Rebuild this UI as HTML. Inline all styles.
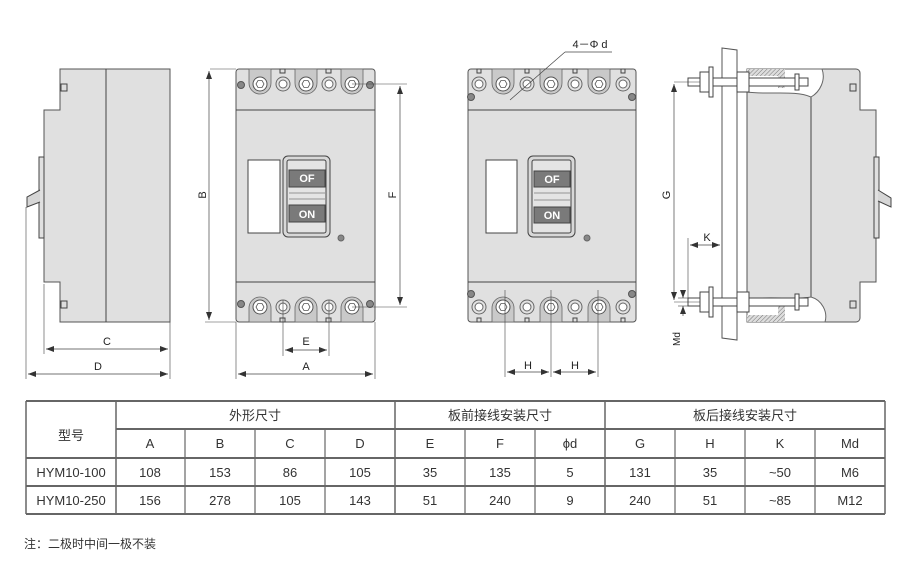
<!DOCTYPE html>
<html><head><meta charset="utf-8"><style>
body{margin:0;background:#fff;width:900px;height:588px;overflow:hidden;font-family:"Liberation Sans","Noto Sans CJK SC",sans-serif}
svg{position:absolute;left:0;top:0}
</style></head><body>
<svg width="900" height="588" viewBox="0 0 900 588" font-family="Liberation Sans, Noto Sans CJK SC, sans-serif">
<defs>
<marker id="a" markerWidth="8" markerHeight="6" refX="8" refY="3" orient="auto-start-reverse" markerUnits="userSpaceOnUse"><path d="M0,0 L8,3 L0,6 z" fill="#333"/></marker>
<pattern id="h" width="3" height="3" patternUnits="userSpaceOnUse" patternTransform="rotate(45)"><rect width="3" height="3" fill="#ddd"/><line x1="0" y1="0" x2="0" y2="3" stroke="#777" stroke-width="1"/></pattern>
<g id="lug"><path d="M-11,0 V14 A11,11 0 0 0 11,14 V0 Z" fill="#c9c9c9" stroke="#666" stroke-width="0.8"/><circle cx="0" cy="15" r="7" fill="#fff" stroke="#555"/><polygon points="-4,15 -2,11.5 2,11.5 4,15 2,18.5 -2,18.5" fill="#fff" stroke="#555" stroke-width="0.8"/></g>
<g id="lugb"><path d="M-11,0 V-14 A11,11 0 0 1 11,-14 V0 Z" fill="#c9c9c9" stroke="#666" stroke-width="0.8"/><circle cx="0" cy="-15" r="7" fill="#fff" stroke="#555"/><polygon points="-4,-15 -2,-11.5 2,-11.5 4,-15 2,-18.5 -2,-18.5" fill="#fff" stroke="#555" stroke-width="0.8"/></g>
<g id="sc"><circle r="7" fill="#e2e2e2" stroke="#666"/><circle r="4" fill="#fff" stroke="#666"/></g>
<g id="scr"><circle r="3.5" fill="#888" stroke="#555"/></g>
</defs>
<g stroke="#444" stroke-width="1" fill="none">
<!-- VIEW 1 side -->
<path d="M60,69 H170 V322 H60 V282 H44 V110 H60 Z" fill="#e0e0e0" stroke="#555"/>
<line x1="106" y1="69" x2="106" y2="322"/>
<rect x="39" y="157" width="5" height="81" fill="#e0e0e0"/>
<path d="M40,190 L27,197 V207 L40,202" fill="#d6d6d6"/>
<rect x="61" y="84" width="6" height="7" fill="#ddd"/>
<rect x="61" y="301" width="6" height="7" fill="#ddd"/>
<line x1="44" y1="284" x2="44" y2="354" stroke-width="0.6"/>
<line x1="26" y1="207" x2="26" y2="379" stroke-width="0.6"/>
<line x1="170" y1="322" x2="170" y2="379" stroke-width="0.6"/>
<line x1="46" y1="349" x2="168" y2="349" marker-start="url(#a)" marker-end="url(#a)" stroke-width="0.7"/>
<line x1="28" y1="374" x2="168" y2="374" marker-start="url(#a)" marker-end="url(#a)" stroke-width="0.7"/>

<!-- VIEW 2 front -->
<rect x="236" y="69" width="139" height="253" rx="3" fill="#e0e0e0" stroke="#555"/>
<line x1="236" y1="110" x2="375" y2="110"/><line x1="236" y1="282" x2="375" y2="282"/>
<use href="#lug" x="260" y="69"/><use href="#lug" x="306" y="69"/><use href="#lug" x="352" y="69"/>
<use href="#sc" x="283" y="84"/><use href="#sc" x="329" y="84"/>
<use href="#lugb" x="260" y="322"/><use href="#lugb" x="306" y="322"/><use href="#lugb" x="352" y="322"/>
<use href="#sc" x="283" y="307"/><use href="#sc" x="329" y="307"/>
<rect x="280" y="69" width="5" height="4"/><rect x="326" y="69" width="5" height="4"/>
<rect x="280" y="318" width="5" height="4"/><rect x="326" y="318" width="5" height="4"/>
<use href="#scr" x="241" y="85"/><use href="#scr" x="370" y="85"/><use href="#scr" x="241" y="304"/><use href="#scr" x="370" y="304"/>
<rect x="248" y="160" width="32" height="73" fill="#fff"/>
<rect x="283" y="156" width="47" height="81" rx="5" fill="#d8d8d8"/>
<rect x="287" y="160" width="39" height="73" rx="2" fill="#e4e4e4"/>
<rect x="289" y="170" width="36" height="17" fill="#7a7a7a"/>
<rect x="289" y="205" width="36" height="17" fill="#7a7a7a"/>
<line x1="289" y1="193" x2="325" y2="193" stroke-width="0.6"/><line x1="289" y1="199" x2="325" y2="199" stroke-width="0.6"/>
<circle cx="341" cy="238" r="3" fill="#888" stroke="#666"/>
<line x1="210" y1="69" x2="236" y2="69" stroke-width="0.6"/><line x1="205" y1="322" x2="236" y2="322" stroke-width="0.6"/>
<line x1="209" y1="71" x2="209" y2="320" marker-start="url(#a)" marker-end="url(#a)" stroke-width="0.7"/>
<line x1="352" y1="84" x2="407" y2="84" stroke-width="0.6"/><line x1="352" y1="307" x2="407" y2="307" stroke-width="0.6"/>
<line x1="400" y1="86" x2="400" y2="305" marker-start="url(#a)" marker-end="url(#a)" stroke-width="0.7"/>
<line x1="283" y1="300" x2="283" y2="356" stroke-width="0.6"/><line x1="329" y1="300" x2="329" y2="356" stroke-width="0.6"/>
<line x1="285" y1="350" x2="327" y2="350" marker-start="url(#a)" marker-end="url(#a)" stroke-width="0.7"/>
<line x1="236" y1="322" x2="236" y2="379" stroke-width="0.6"/><line x1="375" y1="322" x2="375" y2="379" stroke-width="0.6"/>
<line x1="238" y1="374" x2="373" y2="374" marker-start="url(#a)" marker-end="url(#a)" stroke-width="0.7"/>

<!-- VIEW 3 -->
<rect x="468" y="69" width="168" height="253" rx="3" fill="#e0e0e0" stroke="#555"/>
<line x1="468" y1="110" x2="636" y2="110"/><line x1="468" y1="282" x2="636" y2="282"/>
<use href="#lug" x="503" y="69"/><use href="#lug" x="551" y="69"/><use href="#lug" x="599" y="69"/>
<use href="#sc" x="479" y="84"/><use href="#sc" x="527" y="84"/><use href="#sc" x="575" y="84"/><use href="#sc" x="623" y="84"/>
<use href="#lugb" x="503" y="322"/><use href="#lugb" x="551" y="322"/><use href="#lugb" x="599" y="322"/>
<use href="#sc" x="479" y="307"/><use href="#sc" x="527" y="307"/><use href="#sc" x="575" y="307"/><use href="#sc" x="623" y="307"/>
<rect x="477" y="69" width="4" height="4"/><rect x="525" y="69" width="4" height="4"/><rect x="573" y="69" width="4" height="4"/><rect x="621" y="69" width="4" height="4"/>
<rect x="477" y="318" width="4" height="4"/><rect x="525" y="318" width="4" height="4"/><rect x="573" y="318" width="4" height="4"/><rect x="621" y="318" width="4" height="4"/>
<use href="#scr" x="471" y="97"/><use href="#scr" x="632" y="97"/><use href="#scr" x="471" y="294"/><use href="#scr" x="632" y="294"/>
<rect x="486" y="160" width="31" height="73" fill="#fff"/>
<rect x="528" y="156" width="47" height="81" rx="5" fill="#d8d8d8"/>
<rect x="532" y="160" width="39" height="73" rx="2" fill="#e4e4e4"/>
<rect x="534" y="171" width="36" height="16" fill="#7a7a7a"/>
<rect x="534" y="207" width="36" height="16" fill="#7a7a7a"/>
<line x1="534" y1="193" x2="570" y2="193" stroke-width="0.6"/><line x1="534" y1="200" x2="570" y2="200" stroke-width="0.6"/>
<circle cx="587" cy="238" r="3" fill="#888" stroke="#666"/>
<line x1="565" y1="52" x2="612" y2="52" stroke-width="0.7"/>
<line x1="565" y1="52" x2="510" y2="100" stroke-width="0.7"/>
<line x1="505" y1="290" x2="505" y2="377" stroke-width="0.6"/><line x1="551" y1="290" x2="551" y2="377" stroke-width="0.6"/><line x1="598" y1="290" x2="598" y2="377" stroke-width="0.6"/>
<line x1="507" y1="372" x2="549" y2="372" marker-start="url(#a)" marker-end="url(#a)" stroke-width="0.7"/>
<line x1="553" y1="372" x2="596" y2="372" marker-start="url(#a)" marker-end="url(#a)" stroke-width="0.7"/>

<!-- VIEW 4 -->
<path d="M722,48 L737,50 V340 L722,338 Z" fill="#fff" stroke="#555"/>
<path d="M747,69 H856 A4,4 0 0 1 860,73 V110 H876 V282 H860 V318 A4,4 0 0 1 856,322 H747 Z" fill="#e0e0e0" stroke="#555"/>
<line x1="811" y1="92" x2="811" y2="300"/>
<path d="M747,69 H822 C826,80 820,92 811,97 C795,90 770,95 747,92 Z" fill="#fff" stroke="#666"/>
<path d="M747,322 H825 C828,312 822,300 811,297 C795,300 770,296 747,299 Z" fill="#fff" stroke="#666"/>
<rect x="747" y="69" width="38" height="7" fill="url(#h)" stroke="none"/>
<rect x="778" y="69" width="7" height="19" fill="url(#h)" stroke="none"/>
<rect x="747" y="315" width="38" height="7" fill="url(#h)" stroke="none"/>
<rect x="778" y="300" width="7" height="22" fill="url(#h)" stroke="none"/>
<rect x="874" y="157" width="5" height="81" fill="#e0e0e0"/>
<path d="M878,190 L891,198 V207 L878,201" fill="#d6d6d6"/>
<rect x="850" y="84" width="6" height="7" fill="#ddd"/><rect x="850" y="301" width="6" height="7" fill="#ddd"/>
<g fill="#fff">
<rect x="688" y="78" width="120" height="8"/><rect x="700" y="72" width="12" height="20"/><rect x="709" y="67" width="4" height="30"/><rect x="737" y="72" width="12" height="20"/><rect x="795" y="74" width="4" height="16"/>
<rect x="688" y="298" width="120" height="8"/><rect x="700" y="292" width="12" height="20"/><rect x="709" y="287" width="4" height="30"/><rect x="737" y="292" width="12" height="20"/><rect x="795" y="294" width="4" height="16"/>
</g>
<line x1="674" y1="82" x2="700" y2="82" stroke-width="0.6"/><line x1="674" y1="302" x2="700" y2="302" stroke-width="0.6"/>
<line x1="674" y1="84" x2="674" y2="300" marker-start="url(#a)" marker-end="url(#a)" stroke-width="0.7"/>
<line x1="688" y1="238" x2="688" y2="298" stroke-width="0.6"/>
<line x1="690" y1="245" x2="720" y2="245" marker-start="url(#a)" marker-end="url(#a)" stroke-width="0.7"/>
<line x1="683" y1="290" x2="683" y2="298" marker-end="url(#a)" stroke-width="0.7"/>
<line x1="683" y1="316" x2="683" y2="306" marker-end="url(#a)" stroke-width="0.7"/>
<line x1="678" y1="298" x2="690" y2="298" stroke-width="0.6"/><line x1="678" y1="306" x2="690" y2="306" stroke-width="0.6"/>
</g>
<g font-size="11" fill="#222" text-anchor="middle">
<text x="107" y="345">C</text><text x="98" y="370">D</text>
<text x="306" y="345">E</text><text x="306" y="370">A</text>
<text x="528" y="369">H</text><text x="575" y="369">H</text>
<text x="707" y="241">K</text>
<text x="590" y="48" font-size="11">4－Φ d</text>
<text transform="translate(206,195) rotate(-90)">B</text>
<text transform="translate(396,195) rotate(-90)">F</text>
<text transform="translate(670,195) rotate(-90)">G</text>
<text transform="translate(680,339) rotate(-90)" font-size="10">Md</text>
<g fill="#fff" font-weight="bold" font-size="11"><text x="307" y="182">OF</text><text x="307" y="218">ON</text><text x="552" y="183">OF</text><text x="552" y="219">ON</text></g>
</g>
<!-- TABLE -->
<g stroke="#666" fill="none">
<line x1="26" y1="401" x2="885" y2="401" stroke-width="2"/>
<line x1="116" y1="429" x2="885" y2="429" stroke-width="2"/>
<line x1="26" y1="458" x2="885" y2="458" stroke-width="2"/>
<line x1="26" y1="486" x2="885" y2="486" stroke-width="2"/>
<line x1="26" y1="514" x2="885" y2="514" stroke-width="2"/>
<line x1="26" y1="401" x2="26" y2="514" stroke-width="1.5"/>
<line x1="116" y1="401" x2="116" y2="514" stroke-width="1.5"/>
<line x1="395" y1="401" x2="395" y2="514" stroke-width="1.5"/>
<line x1="605" y1="401" x2="605" y2="514" stroke-width="1.5"/>
<line x1="885" y1="401" x2="885" y2="514" stroke-width="1.5"/>
<g stroke-width="1.2"><line x1="185" y1="429" x2="185" y2="514"/><line x1="255" y1="429" x2="255" y2="514"/><line x1="325" y1="429" x2="325" y2="514"/><line x1="465" y1="429" x2="465" y2="514"/><line x1="535" y1="429" x2="535" y2="514"/><line x1="675" y1="429" x2="675" y2="514"/><line x1="745" y1="429" x2="745" y2="514"/><line x1="815" y1="429" x2="815" y2="514"/></g>
</g>
<g font-size="13" fill="#333" text-anchor="middle">
<text x="71" y="440">型号</text>
<text x="255" y="420">外形尺寸</text><text x="500" y="420">板前接线安装尺寸</text><text x="745" y="420">板后接线安装尺寸</text>
<text x="150" y="448">A</text><text x="220" y="448">B</text><text x="290" y="448">C</text><text x="360" y="448">D</text><text x="430" y="448">E</text><text x="500" y="448">F</text><text x="570" y="448">ϕd</text><text x="640" y="448">G</text><text x="710" y="448">H</text><text x="780" y="448">K</text><text x="850" y="448">Md</text>
<text x="71" y="477">HYM10-100</text><text x="150" y="477">108</text><text x="220" y="477">153</text><text x="290" y="477">86</text><text x="360" y="477">105</text><text x="430" y="477">35</text><text x="500" y="477">135</text><text x="570" y="477">5</text><text x="640" y="477">131</text><text x="710" y="477">35</text><text x="780" y="477">~50</text><text x="850" y="477">M6</text>
<text x="71" y="505">HYM10-250</text><text x="150" y="505">156</text><text x="220" y="505">278</text><text x="290" y="505">105</text><text x="360" y="505">143</text><text x="430" y="505">51</text><text x="500" y="505">240</text><text x="570" y="505">9</text><text x="640" y="505">240</text><text x="710" y="505">51</text><text x="780" y="505">~85</text><text x="850" y="505">M12</text>
</g>
<text x="24" y="548" font-size="12" fill="#333">注：二极时中间一极不装</text>
</svg>
</body></html>
